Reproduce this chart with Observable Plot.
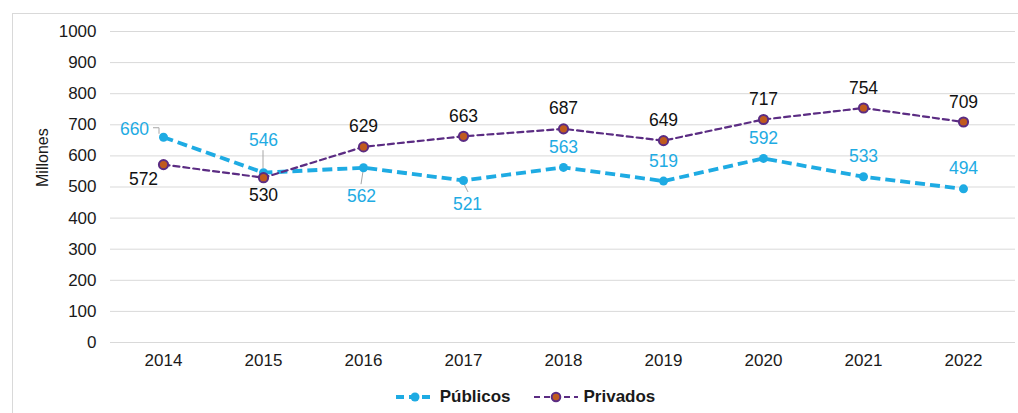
<!DOCTYPE html>
<html>
<head>
<meta charset="utf-8">
<script src="https://cdn.jsdelivr.net/npm/d3@7"></script>
<script src="https://cdn.jsdelivr.net/npm/@observablehq/plot@0.6"></script>
<style>
  html, body { margin: 0; padding: 0; background: #fff; }
  body { width: 1018px; height: 413px; overflow: hidden; position: relative; font-family: "Liberation Sans", Arial, sans-serif; }
  #frame { position: absolute; left: 12px; top: 13px; width: 1006px; height: 400px; border-left: 1px solid #d9d9d9; border-top: 1px solid #d9d9d9; box-sizing: border-box; }
  #legend { position: absolute; left: 32px; top: 383px; width: 986px; height: 28px; display: flex; justify-content: center; align-items: center; gap: 22px; font-weight: bold; font-size: 17px; color: #1a1a1a; }
  #legend span.item { display: inline-flex; align-items: center; gap: 5px; }
</style>
</head>
<body>
<div id="frame"><div id="chart"></div></div>
<div id="legend"></div>
<script>
const years = ["2014","2015","2016","2017","2018","2019","2020","2021","2022"];
const publicos = [660, 546, 562, 521, 563, 519, 592, 533, 494];
const privados = [572, 530, 629, 663, 687, 649, 717, 754, 709];
const yTicks = [0,100,200,300,400,500,600,700,800,900,1000];
const seriesNames = ["Públicos", "Privados"];

const cyan = "#1EABE3";
const purple = "#5B2C83";
const orange = "#C05A1E";

const pub = years.map((y, i) => ({year: y, value: publicos[i], i}));
const pri = years.map((y, i) => ({year: y, value: privados[i], i}));

const pubBelow = new Set([2, 3]);
const pubLeft = new Set([0]);
const pubHigh = new Set([1]);
const priBelow = new Set([1]);
const priLeft = new Set([0]);

const fs = 17.5;
const txt = {fontSize: fs, lineAnchor: "middle", fontFamily: "Liberation Sans, Arial, sans-serif"};

function leaders(index, scales) {
  const {x, y} = scales;
  const ns = "http://www.w3.org/2000/svg";
  const g = document.createElementNS(ns, "g");
  const segs = [];
  {
    const px = x(years[0]), py = y(publicos[0]);
    segs.push([[px - 10, py - 9], [px - 4, py - 9], [px - 4, py - 3]]);
  }
  {
    const px = x(years[1]), py = y(publicos[1]);
    segs.push([[px, py - 22], [px, py - 4]]);
  }
  {
    const px = x(years[2]), py = y(publicos[2]);
    segs.push([[px, py + 4], [px - 2, py + 17]]);
  }
  {
    const px = x(years[3]), py = y(publicos[3]);
    segs.push([[px + 1, py + 4], [px + 5, py + 12]]);
  }
  for (const s of segs) {
    const p = document.createElementNS(ns, "polyline");
    p.setAttribute("points", s.map(d => d.join(",")).join(" "));
    p.setAttribute("fill", "none");
    p.setAttribute("stroke", "#a6a6a6");
    p.setAttribute("stroke-width", "1");
    g.appendChild(p);
  }
  return g;
}

const chart = Plot.plot({
  width: 1005,
  height: 360,
  marginLeft: 97,
  marginRight: 3,
  marginTop: 17,
  marginBottom: 32,
  style: {fontFamily: "Liberation Sans, Arial, sans-serif", fontSize: "17px", color: "#1a1a1a", background: "transparent"},
  x: {type: "point", domain: years, padding: 0.5, label: null},
  y: {domain: [0, 1000], label: null},
  marks: [
    Plot.gridY(yTicks, {stroke: "#d9d9d9", strokeOpacity: 1, strokeWidth: 1}),
    Plot.axisY(yTicks, {tickSize: 0, tickPadding: 14, fontSize: 17, label: null, tickFormat: d => String(d)}),
    Plot.axisX({tickSize: 0, tickPadding: 11, fontSize: 17, label: null}),
    Plot.text(["Millones"], {frameAnchor: "left", dx: -68, rotate: -90, fontSize: 16, fill: "#1a1a1a"}),
    leaders,
    Plot.line(pub, {x: "year", y: "value", stroke: cyan, strokeWidth: 3.8, strokeDasharray: "10,5", strokeLinecap: "butt"}),
    Plot.line(pri, {x: "year", y: "value", stroke: purple, strokeWidth: 2.2, strokeDasharray: "6,4"}),
    Plot.dot(pub, {x: "year", y: "value", r: 4.5, fill: cyan, stroke: null}),
    Plot.dot(pri, {x: "year", y: "value", r: 4.6, fill: orange, stroke: purple, strokeWidth: 2}),
    Plot.text(pub.filter(d => !pubBelow.has(d.i) && !pubLeft.has(d.i) && !pubHigh.has(d.i)), {...txt, x: "year", y: "value", text: d => String(d.value), dy: -20, fill: cyan}),
    Plot.text(pub.filter(d => pubHigh.has(d.i)), {...txt, x: "year", y: "value", text: d => String(d.value), dy: -32, fill: cyan}),
    Plot.text(pub.filter(d => d.i === 2), {...txt, x: "year", y: "value", text: d => String(d.value), dy: 29, dx: -2, fill: cyan}),
    Plot.text(pub.filter(d => d.i === 3), {...txt, x: "year", y: "value", text: d => String(d.value), dy: 24, dx: 4, fill: cyan}),
    Plot.text(pub.filter(d => pubLeft.has(d.i)), {...txt, x: "year", y: "value", text: d => String(d.value), dy: -8, dx: -29, fill: cyan}),
    Plot.text(pri.filter(d => !priBelow.has(d.i) && !priLeft.has(d.i)), {...txt, x: "year", y: "value", text: d => String(d.value), dy: -20, fill: "#111"}),
    Plot.text(pri.filter(d => priBelow.has(d.i)), {...txt, x: "year", y: "value", text: d => String(d.value), dy: 18, fill: "#111"}),
    Plot.text(pri.filter(d => priLeft.has(d.i)), {...txt, x: "year", y: "value", text: d => String(d.value), dy: 15, dx: -20, fill: "#111"})
  ]
});
document.getElementById("chart").appendChild(chart);

const legend = document.getElementById("legend");
const swatches = [
  `<svg width="40" height="12"><line x1="1" y1="6" x2="39" y2="6" stroke="${cyan}" stroke-width="3.8" stroke-dasharray="8,5"/><circle cx="20" cy="6" r="4.5" fill="${cyan}"/></svg>`,
  `<svg width="46" height="12"><line x1="1" y1="6" x2="45" y2="6" stroke="${purple}" stroke-width="2.2" stroke-dasharray="6,4"/><circle cx="23" cy="6" r="4.3" fill="${orange}" stroke="${purple}" stroke-width="2"/></svg>`
];
seriesNames.forEach((name, k) => {
  const s = document.createElement("span");
  s.className = "item";
  s.innerHTML = swatches[k] + `<span>${name}</span>`;
  legend.appendChild(s);
});
</script>
</body>
</html>
